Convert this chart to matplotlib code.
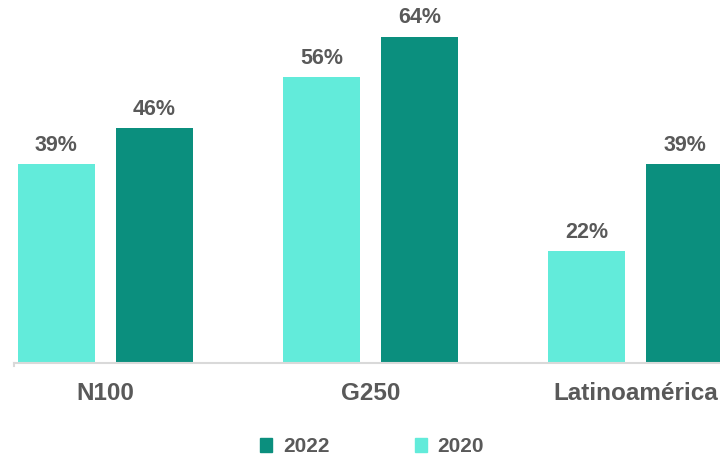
import matplotlib.pyplot as plt
import numpy as np
from matplotlib.patches import Patch

plt.rcParams['font.family'] = ['Liberation Sans', 'DejaVu Sans']

regions = ['N100', 'G250', 'Latinoamérica']
vals_2020 = [39, 56, 22]
vals_2022 = [46, 64, 39]

c_light = '#62EBDA'
c_dark = '#0B8F7E'
txt = '#595959'

fig = plt.figure(figsize=(7.2, 4.57), dpi=100)
# axes starts at x=14px and runs to the right edge; the last bar gets clipped like in the source
ax = fig.add_axes([14 / 720, 94 / 457, 706 / 720, 363 / 457])

x = np.arange(len(regions))
w = 0.29
off = 0.185
b1 = ax.bar(x - off, vals_2020, w, color=c_light)
b2 = ax.bar(x + off, vals_2022, w, color=c_dark)

for bars, vals in ((b1, vals_2020), (b2, vals_2022)):
    for r, v in zip(bars, vals):
        ax.annotate(f'{v}%', (r.get_x() + r.get_width() / 2, v),
                    xytext=(0, 6), textcoords='offset points',
                    ha='center', va='bottom', fontsize=15.5,
                    fontweight='bold', color=txt)

ax.set_xlim(-0.345, 2.319)
ax.set_ylim(0, 71.2)
ax.set_xticks(x)
ax.set_xticklabels(regions, fontsize=17.5, fontweight='bold', color=txt)
ax.tick_params(axis='x', length=0, pad=14)
ax.set_yticks([])
for s in ('top', 'right', 'left'):
    ax.spines[s].set_visible(False)
ax.spines['bottom'].set_color('#D9D9D9')
ax.spines['bottom'].set_linewidth(1.5)
# little end tick under the baseline on the left
ax.plot([0, 0], [0, -3 / 363], transform=ax.transAxes, color='#D9D9D9',
        lw=1.5, clip_on=False)

handles = [Patch(color=c_dark, label='2022'), Patch(color=c_light, label='2020')]
leg = fig.legend(handles=handles, loc='center', bbox_to_anchor=(372 / 720, 0.022),
                 ncol=2, frameon=False, handlelength=0.6, handleheight=0.6,
                 handletextpad=0.5, columnspacing=4.1,
                 prop={'size': 15, 'weight': 'bold'})
for t in leg.get_texts():
    t.set_color(txt)

fig.savefig('out.png', dpi=100)
